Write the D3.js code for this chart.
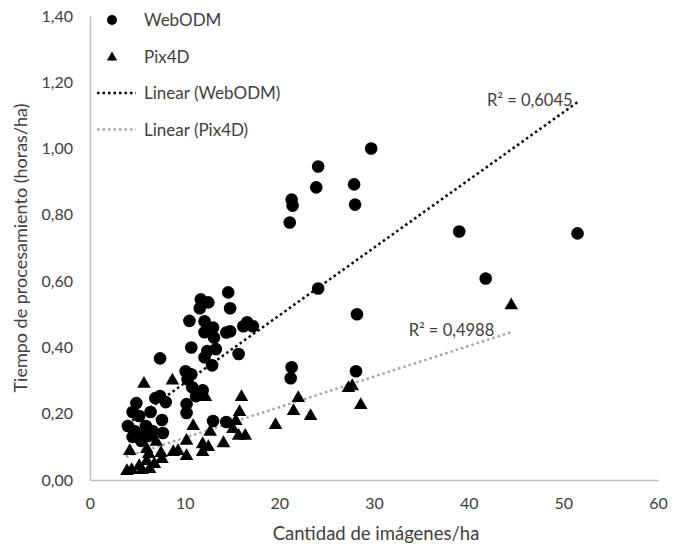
<!DOCTYPE html>
<html>
<head>
<meta charset="utf-8">
<script src="https://cdn.jsdelivr.net/npm/d3@7"></script>
<style>
  body { margin: 0; background: #fff; }
  text { font-family: Lato, "Open Sans", sans-serif; fill: #404040; }
</style>
</head>
<body>
<div id="chart"></div>
<script>
// WebODM points [imagenes/ha, horas/ha]
const webodm = [
    [29.7, 1.00], [24.1, 0.946], [23.9, 0.883], [27.9, 0.892], [28.0, 0.831],
    [21.3, 0.846], [21.4, 0.828], [21.1, 0.777], [24.1, 0.578], [28.2, 0.500],
    [21.3, 0.340], [21.2, 0.307], [28.1, 0.328], [39.0, 0.750], [51.5, 0.744],
    [41.8, 0.608],
    [14.6, 0.566], [11.7, 0.545], [12.5, 0.536], [11.6, 0.518], [14.8, 0.518],
    [10.5, 0.480], [12.1, 0.479], [12.1, 0.446], [13.0, 0.460], [14.4, 0.445],
    [14.8, 0.449], [13.1, 0.430], [16.2, 0.464], [16.6, 0.476], [17.2, 0.464],
    [10.7, 0.400], [12.4, 0.389], [13.3, 0.395], [12.1, 0.370], [12.9, 0.346],
    [15.7, 0.380], [7.4, 0.367], [10.1, 0.328], [10.7, 0.319], [10.3, 0.304],
    [10.8, 0.280], [11.2, 0.253], [11.9, 0.271], [10.2, 0.229], [10.2, 0.202],
    [6.9, 0.247], [7.4, 0.253], [8.0, 0.235], [4.9, 0.232], [4.5, 0.205],
    [5.2, 0.193], [6.4, 0.205], [7.6, 0.181], [4.0, 0.163], [4.7, 0.148],
    [5.9, 0.163], [6.6, 0.148], [5.5, 0.133], [4.5, 0.130], [7.7, 0.142],
    [13.0, 0.178], [14.4, 0.175], [5.4, 0.118], [6.2, 0.133]
];

// Pix4D points
const pix4d = [
    [44.5, 0.527], [22.0, 0.247], [21.5, 0.208], [23.3, 0.193], [19.6, 0.166],
    [27.3, 0.277], [27.7, 0.283], [28.6, 0.226],
    [5.7, 0.290], [8.7, 0.300], [12.2, 0.250], [16.0, 0.250], [15.8, 0.205],
    [10.9, 0.163], [12.7, 0.145], [15.4, 0.178], [15.1, 0.154], [15.7, 0.133],
    [16.4, 0.133], [7.0, 0.115], [10.2, 0.118], [11.9, 0.108], [12.5, 0.099],
    [14.1, 0.111], [4.2, 0.087], [6.0, 0.093], [6.2, 0.078], [7.5, 0.081],
    [8.8, 0.084], [9.3, 0.087], [10.2, 0.072], [11.9, 0.084], [7.6, 0.063],
    [6.0, 0.057], [6.8, 0.048], [5.2, 0.042], [3.9, 0.027], [4.4, 0.030],
    [5.5, 0.030], [6.3, 0.033]
];

// trend line ends
const trendWebodm = [[4.0, 0.170], [51.5, 1.140]];
const trendPix4d = [[3.8, 0.070], [44.5, 0.446]];
const r2Labels = ["R² = 0,6045", "R² = 0,4988"];

const xTicks = [0, 10, 20, 30, 40, 50, 60];
const yTicks = [0, 0.2, 0.4, 0.6, 0.8, 1.0, 1.2, 1.4];

const width = 689, height = 544;
const margin = {top: 16, right: 31, bottom: 64, left: 90};

const svg = d3.select("#chart")
    .append("svg")
    .attr("width", width)
    .attr("height", height);

const x = d3.scaleLinear()
    .domain([0, 60])
    .range([margin.left, width - margin.right]);

const y = d3.scaleLinear()
    .domain([0, 1.4])
    .range([height - margin.bottom, margin.top]);

const fmt = d => d3.format(".2f")(d).replace(".", ",");

// Axes
const xAxis = svg.append("g")
    .attr("transform", `translate(0,${height - margin.bottom})`)
    .call(d3.axisBottom(x).tickValues(xTicks).tickSize(0).tickPadding(18));
xAxis.select(".domain").attr("stroke", "#bfbfbf").attr("stroke-width", 1.5);
xAxis.selectAll("text").style("font-size", "16px").attr("fill", "#404040");

const yAxis = svg.append("g")
    .attr("transform", `translate(${margin.left},0)`)
    .call(d3.axisLeft(y).tickValues(yTicks).tickFormat(fmt).tickSize(0).tickPadding(17));
yAxis.select(".domain").attr("stroke", "#bfbfbf").attr("stroke-width", 1.5);
yAxis.selectAll("text").style("font-size", "16px").attr("fill", "#404040");

// Axis titles
svg.append("text")
    .attr("x", (margin.left + width - margin.right) / 2 + 2)
    .attr("y", 540)
    .attr("text-anchor", "middle")
    .style("font-size", "18.5px")
    .text("Cantidad de imágenes/ha");

svg.append("text")
    .attr("transform", `translate(27,${(margin.top + height - margin.bottom) / 2}) rotate(-90)`)
    .attr("text-anchor", "middle")
    .style("font-size", "18px")
    .text("Tiempo de procesamiento (horas/ha)");

// Trend lines
const line = d3.line()
    .x(d => x(d[0]))
    .y(d => y(d[1]));

svg.append("path")
    .datum(trendPix4d)
    .attr("fill", "none")
    .attr("stroke", "#a6a6a6")
    .attr("stroke-width", 2.5)
    .attr("stroke-dasharray", "2.5,3")
    .attr("d", line);

svg.append("path")
    .datum(trendWebodm)
    .attr("fill", "none")
    .attr("stroke", "#000")
    .attr("stroke-width", 2.5)
    .attr("stroke-dasharray", "2.5,3")
    .attr("d", line);

// Points
svg.selectAll(".pix")
    .data(pix4d)
    .enter()
    .append("path")
    .attr("class", "pix")
    .attr("d", d3.symbol().type(d3.symbolTriangle).size(80))
    .attr("transform", d => `translate(${x(d[0])},${y(d[1])})`)
    .attr("fill", "#000");

svg.selectAll(".web")
    .data(webodm)
    .enter()
    .append("circle")
    .attr("class", "web")
    .attr("cx", d => x(d[0]))
    .attr("cy", d => y(d[1]))
    .attr("r", 6.3)
    .attr("fill", "#000");

// R² labels
svg.append("text")
    .attr("x", x(trendWebodm[1][0]) - 5)
    .attr("y", y(trendWebodm[1][1]) + 4)
    .attr("text-anchor", "end")
    .style("font-size", "16.5px")
    .text(r2Labels[0]);

svg.append("text")
    .attr("x", x(trendPix4d[1][0]) - 17)
    .attr("y", y(trendPix4d[1][1]) + 4)
    .attr("text-anchor", "end")
    .style("font-size", "16.5px")
    .text(r2Labels[1]);

// Legend
const legendItems = ["WebODM", "Pix4D", "Linear (WebODM)", "Linear (Pix4D)"];
const legend = svg.selectAll(".legend")
    .data(legendItems)
    .enter()
    .append("g")
    .attr("class", "legend")
    .attr("transform", (d, i) => `translate(0,${20 + i * 36.5})`);

legend.each(function (d, i) {
    const g = d3.select(this);
    if (i === 0) {
        g.append("circle").attr("cx", 112).attr("cy", 0).attr("r", 5).attr("fill", "#000");
    } else if (i === 1) {
        g.append("path")
            .attr("d", d3.symbol().type(d3.symbolTriangle).size(45))
            .attr("transform", "translate(112,1)")
            .attr("fill", "#000");
    } else {
        g.append("line")
            .attr("x1", 97).attr("x2", 136)
            .attr("y1", 0).attr("y2", 0)
            .attr("stroke", i === 2 ? "#000" : "#a6a6a6")
            .attr("stroke-width", 2.5)
            .attr("stroke-dasharray", "2.5,3");
    }
    g.append("text")
        .attr("x", 144)
        .attr("y", 6)
        .style("font-size", "17px")
        .text(d);
});
</script>
</body>
</html>
